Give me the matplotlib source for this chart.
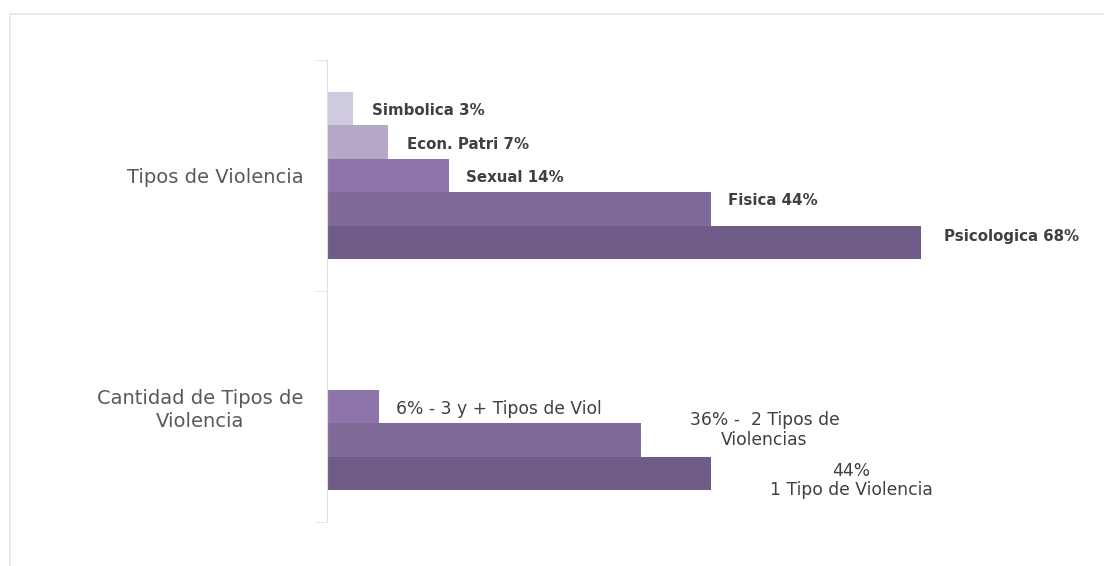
import matplotlib.pyplot as plt
from matplotlib.patches import Rectangle

plt.rcParams['font.family'] = ['DejaVu Sans']

# categories, bottom to top on the y axis
categories = ["Cantidad de Tipos de\nViolencia", "Tipos de Violencia"]

# one series per bar slot in the cluster (top to bottom inside a group)
series_names = ["Simbolica", "Econ. Patri", "Sexual", "Fisica", "Psicologica"]
tipos_values = [3, 7, 14, 44, 68]
cantidad_values = [None, None, 6, 36, 44]

tipos_labels = ["Simbolica 3%", "Econ. Patri 7%", "Sexual 14%", "Fisica 44%",
                "Psicologica 68%"]
cantidad_labels = [None, None, "6% - 3 y + Tipos de Viol",
                   "36% -  2 Tipos de\nViolencias", "44%\n1 Tipo de Violencia"]

colors = ["#cfcadf", "#b4a7c8", "#8d75ab", "#806a99", "#6e5b88"]

# label tweaks (pixel offsets from bar end / bar centre)
tipos_offsets = [(19, -2), (19, -2), (17, -2), (17, 8), (23, 6)]
cantidad_offsets = [None, None, (17, -3), (123, 10), (140, -7)]

fig = plt.figure(figsize=(11.04, 5.66), dpi=100)
fig.patches.append(Rectangle((10 / 1104, -0.1), 1.1, (566 - 14) / 566 + 0.1,
                             transform=fig.transFigure, fill=False,
                             edgecolor="#e8e8e8", linewidth=1.2))
ax = fig.add_axes([327 / 1104, 44 / 566, (80 * 8.735) / 1104, 462 / 566])

h = 0.1446
n = len(series_names)
for i, name in enumerate(series_names):
    off = (n // 2 - i) * h
    vals = [cantidad_values[i], tipos_values[i]]
    for c, v in enumerate(vals):
        if v is None:
            continue
        ax.barh(c + off, v, height=h, color=colors[i], edgecolor="none")

# data labels
for i in range(n):
    off = (n // 2 - i) * h
    dx, dy = tipos_offsets[i]
    ax.annotate(tipos_labels[i], (tipos_values[i], 1 + off),
                xytext=(dx, dy), textcoords="offset pixels",
                ha="left", va="center", fontsize=10.8, fontweight="bold",
                color="#404040", annotation_clip=False)
    if cantidad_values[i] is not None:
        dx, dy = cantidad_offsets[i]
        ha = "left" if i == 2 else "center"
        ax.annotate(cantidad_labels[i], (cantidad_values[i], 0 + off),
                    xytext=(dx, dy), textcoords="offset pixels",
                    ha=ha, va="center", fontsize=12.3, color="#404040",
                    multialignment="center", linespacing=1.1,
                    annotation_clip=False)

ax.set_xlim(0, 80)
ax.set_ylim(-0.5, 1.5)
ax.set_yticks([0, 1])
ax.set_yticklabels(categories, fontsize=14, color="#595959",
                   multialignment="center", linespacing=1.25)
ax.set_yticks([-0.5, 0.5, 1.5], minor=True)
ax.tick_params(axis="y", which="major", length=0, pad=17)
ax.tick_params(axis="y", which="minor", length=9, color="#e0e0e0")
ax.set_xticks([])
for s in ["top", "right", "bottom"]:
    ax.spines[s].set_visible(False)
ax.spines["left"].set_color("#e0e0e0")

fig.savefig("out.png", dpi=100)
